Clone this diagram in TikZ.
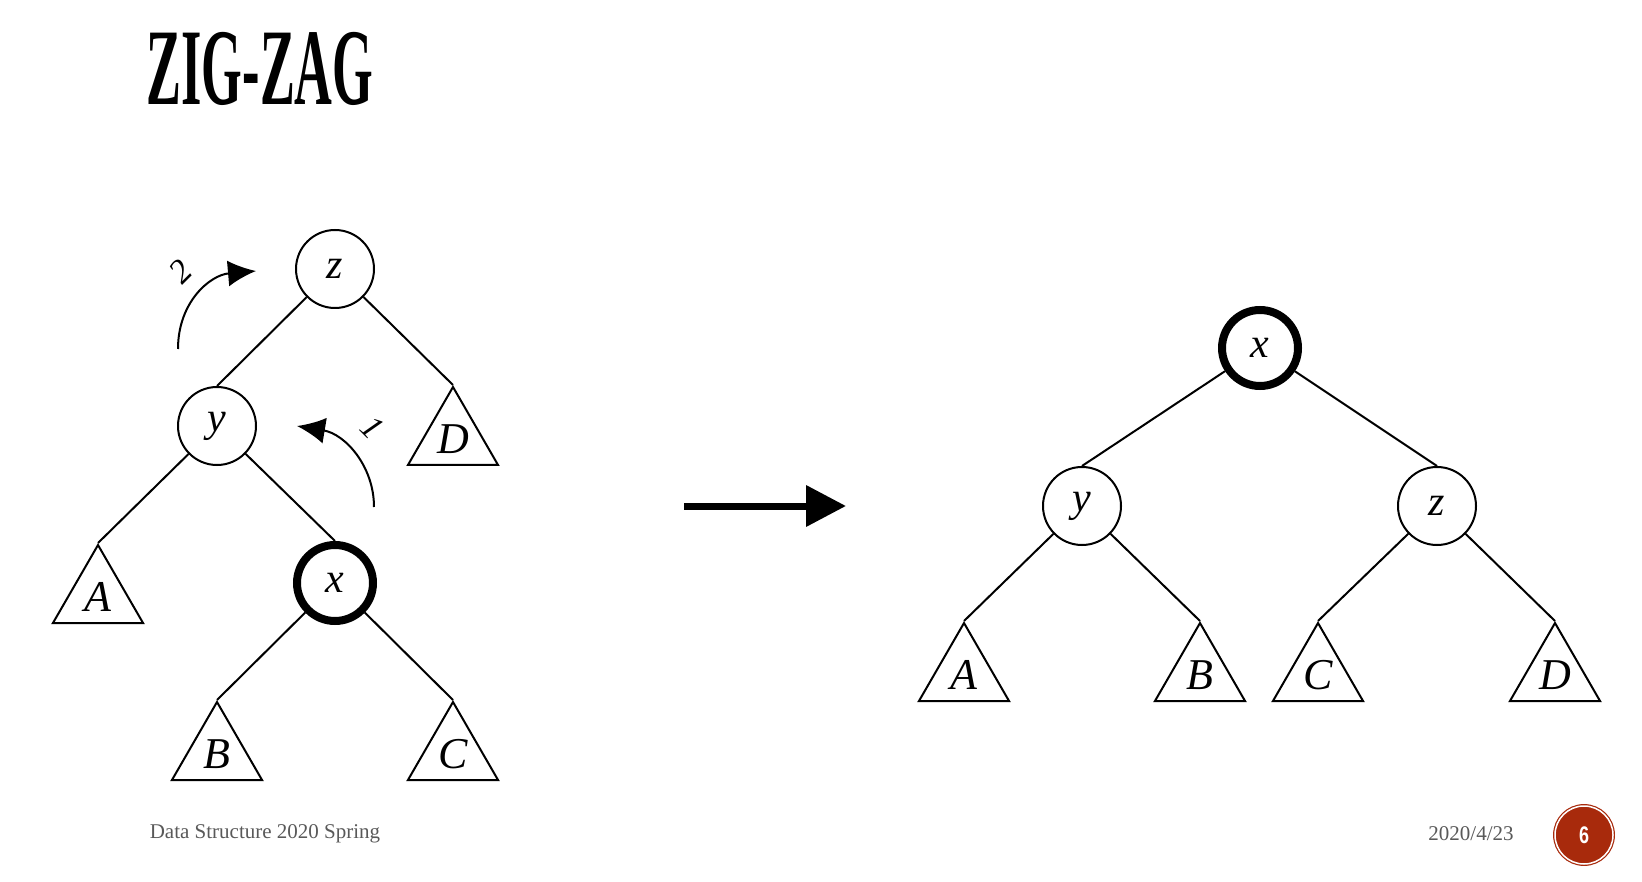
\documentclass[tikz,border=0pt]{standalone}
\usepackage{xcolor}
\usepackage{fontspec}
\setmainfont{Liberation Serif}
\setsansfont{Liberation Sans}
\usepackage{tikz}
\usetikzlibrary{shapes,arrows.meta,positioning}

\definecolor{footgray}{HTML}{595959}
\definecolor{numred}{HTML}{A82A0C}

\begin{document}
\begin{tikzpicture}[
    x=1pt, y=-1pt,
    vtx/.style={circle, draw, line width=2pt, minimum size=78pt, inner sep=0pt, font=\itshape\fontsize{42}{42}\selectfont},
    hotvtx/.style={vtx, line width=8pt, minimum size=76pt},
    subtree/.style={regular polygon, regular polygon sides=3, draw, line width=2pt, minimum size=104pt, inner sep=0pt, font=\itshape\fontsize{44}{44}\selectfont},
    edge/.style={line width=2pt},
    rot/.style={-{Latex[length=28pt,width=26pt]}, line width=2pt},
    bigarrow/.style={-{Triangle[length=40pt,width=40pt]}, line width=7pt},
    step label/.style={font=\itshape\fontsize{34}{34}\selectfont},
    foot/.style={font=\fontsize{21}{21}\selectfont, text=footgray}
]
\useasboundingbox (0,0) rectangle (1642,882);

% Title
\node (title) at (260,69) {\scalebox{0.48}[1]{\bfseries\fontsize{109}{109}\selectfont ZIG-ZAG}};

% Before: left tree
\node[vtx] (z) at (335,269) {z};
\node[vtx] (y) at (217,426) {y};
\node[hotvtx] (x) at (335,583) {x};
\node[subtree] (tD) at (453,439) {D};
\node[subtree] (tA) at (98,597) {A};
\node[subtree] (tB) at (217,754) {B};
\node[subtree] (tC) at (453,754) {C};

\draw[edge] (z) -- (y.north);
\draw[edge] (z) -- (tD.corner 1);
\draw[edge] (y) -- (tA.corner 1);
\draw[edge] (y) -- (x.north);
\draw[edge] (x) -- (tB.corner 1);
\draw[edge] (x) -- (tC.corner 1);

% Rotations
\coordinate (r2a) at (178,349);
\coordinate (r2b) at (256,271);
\coordinate (r1a) at (374,507);
\coordinate (r1b) at (297,426);
\draw[rot] (r2a) .. controls (178,302) and (210,275) .. (r2b);
\draw[rot] (r1a) .. controls (374,466) and (345,434) .. (r1b);
\node[step label, rotate=45] (s2) at (181,272) {2};
\node[step label, rotate=-45] (s1) at (372,428) {1};

% Transform arrow
\coordinate (goA) at (684,506);
\coordinate (goB) at (846,506);
\draw[bigarrow] (goA) -- (goB);

% After: right tree
\node[hotvtx] (x2) at (1260,348) {x};
\node[vtx] (y2) at (1082,506) {y};
\node[vtx] (z2) at (1437,506) {z};
\node[subtree] (tA2) at (964,675) {A};
\node[subtree] (tB2) at (1200,675) {B};
\node[subtree] (tC2) at (1318,675) {C};
\node[subtree] (tD2) at (1555,675) {D};

\draw[edge] (x2) -- (y2.north);
\draw[edge] (x2) -- (z2.north);
\draw[edge] (y2) -- (tA2.corner 1);
\draw[edge] (y2) -- (tB2.corner 1);
\draw[edge] (z2) -- (tC2.corner 1);
\draw[edge] (z2) -- (tD2.corner 1);

% Footer
\node[foot] (course) at (265,834) {Data Structure 2020 Spring};
\node[foot] (date) at (1471,834) {2020/4/23};
\node[circle, fill=numred, draw=numred, double=white, double distance=1.5pt, line width=1.2pt, minimum size=58pt, inner sep=0pt,
      text=white, font=\sffamily\bfseries\fontsize{24}{24}\selectfont] (pagenum) at (1584,835) {\scalebox{0.75}[1]{6}};

\end{tikzpicture}
\end{document}
